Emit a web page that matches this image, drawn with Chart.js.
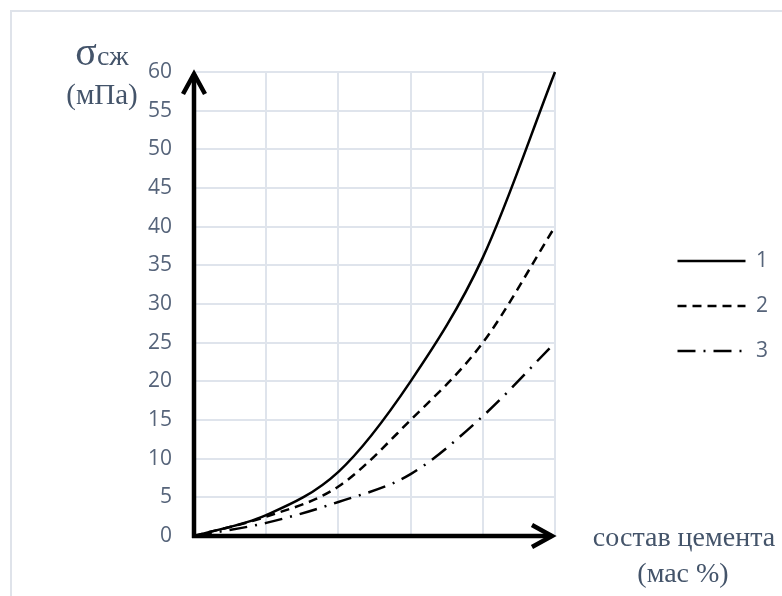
<!DOCTYPE html>
<html><head><meta charset="utf-8">
<script src="https://cdn.jsdelivr.net/npm/chart.js@4.4.1/dist/chart.umd.min.js"></script>
<style>html,body{margin:0;padding:0;background:#fff;overflow:hidden}canvas{display:block}</style>
</head><body>
<canvas id="c" width="782" height="596"></canvas>
<script>
const xValues = [0, 10, 20, 30, 40, 50];
const series1 = [0, 2.7, 8.3, 20, 36, 60];
const series2 = [0, 2.5, 6.4, 15, 25, 40];
const series3 = [0, 1.7, 4.4, 8, 15.5, 25];
const seriesNames = ['1', '2', '3'];
const yTitleSymbol = 'σ';
const yTitleSub = 'сж';
const yTitleUnit = '(мПа)';
const xTitleLine1 = 'состав цемента';
const xTitleLine2 = '(мас %)';

const tickColor = '#56647a';
const titleColor = '#44546A';
const tickFont = {family: 'Open Sans', size: 21};
const gridColor = '#dfe4ec';

const toPoints = arr => xValues.map((x, i) => ({x: x, y: arr[i]}));

const decor = {
  id: 'decor',
  beforeDraw(chart) {
    const ctx = chart.ctx;
    ctx.save();
    ctx.strokeStyle = '#dfe3ea';
    ctx.lineWidth = 2;
    ctx.strokeRect(11, 11, 1000, 1000);
    ctx.restore();
  },
  afterDatasetsDraw(chart) {
    const {ctx, scales: {x, y}} = chart;
    const x0 = x.getPixelForValue(0), xr = x.getPixelForValue(50);
    const y0 = y.getPixelForValue(0), yt = y.getPixelForValue(60);
    ctx.save();
    ctx.strokeStyle = '#000';
    ctx.lineWidth = 4.5;
    ctx.lineCap = 'butt';
    ctx.lineJoin = 'miter';
    ctx.beginPath(); ctx.moveTo(x0, y0 + 2); ctx.lineTo(x0, yt + 2); ctx.stroke();
    ctx.beginPath(); ctx.moveTo(x0 - 11, yt + 22); ctx.lineTo(x0, yt + 2); ctx.lineTo(x0 + 11, yt + 22); ctx.stroke();
    ctx.beginPath(); ctx.moveTo(x0 - 2, y0); ctx.lineTo(xr - 3, y0); ctx.stroke();
    ctx.beginPath(); ctx.moveTo(xr - 23, y0 - 11); ctx.lineTo(xr - 3, y0); ctx.lineTo(xr - 23, y0 + 11); ctx.stroke();
    ctx.restore();
  },
  afterDraw(chart) {
    const ctx = chart.ctx;
    ctx.save();
    ctx.fillStyle = titleColor;
    ctx.textBaseline = 'alphabetic';
    ctx.font = '40px "Liberation Serif"';
    const wS = ctx.measureText(yTitleSymbol).width;
    ctx.font = '28px "Liberation Serif"';
    const wSub = ctx.measureText(yTitleSub).width;
    const cx = 102;
    let sx = cx - (wS + wSub) / 2;
    ctx.font = '40px "Liberation Serif"';
    ctx.textAlign = 'left';
    ctx.fillText(yTitleSymbol, sx, 65);
    ctx.font = '28px "Liberation Serif"';
    ctx.fillText(yTitleSub, sx + wS, 65);
    ctx.textAlign = 'center';
    ctx.font = '29px "Liberation Serif"';
    ctx.fillText(yTitleUnit, cx, 104);
    ctx.font = '28px "Liberation Serif"';
    ctx.fillText(xTitleLine1, 684, 546);
    ctx.fillText(xTitleLine2, 683, 582);
    ctx.restore();
  }
};

const common = {borderColor: '#000', borderWidth: 2.5, pointRadius: 0, pointHoverRadius: 0, cubicInterpolationMode: 'monotone', fill: false, clip: false};

new Chart(document.getElementById('c'), {
  type: 'line',
  data: {
    datasets: [
      Object.assign({label: seriesNames[0], data: toPoints(series1), borderDash: []}, common),
      Object.assign({label: seriesNames[1], data: toPoints(series2), borderDash: [9, 6]}, common),
      Object.assign({label: seriesNames[2], data: toPoints(series3), borderDash: [18, 8, 2, 8]}, common)
    ]
  },
  options: {
    responsive: false,
    devicePixelRatio: 1,
    animation: false,
    layout: {padding: {left: 10, right: 4, top: 72, bottom: 56}},
    plugins: {
      legend: {
        position: 'right',
        align: 'center',
        labels: {
          usePointStyle: true,
          pointStyle: 'line',
          pointStyleWidth: 68,
          boxWidth: 68,
          padding: 24,
          color: tickColor,
          font: tickFont,
          generateLabels(chart) {
            const items = Chart.defaults.plugins.legend.labels.generateLabels(chart);
            items.forEach(it => {
              const ds = chart.data.datasets[it.datasetIndex];
              it.lineDash = ds.borderDash;
              it.lineWidth = 2.5;
              it.strokeStyle = '#000';
              it.pointStyle = 'line';
            });
            return items;
          }
        }
      },
      tooltip: {enabled: false}
    },
    scales: {
      x: {
        type: 'linear', min: 0, max: 50,
        ticks: {stepSize: 10, padding: 19, color: tickColor, font: tickFont, maxRotation: 0},
        grid: {color: gridColor, lineWidth: 2, drawTicks: false},
        border: {display: false},
        afterFit(s) { s.height = 4; }
      },
      y: {
        type: 'linear', min: 0, max: 60,
        ticks: {stepSize: 5, padding: 22, color: tickColor, font: tickFont},
        grid: {color: gridColor, lineWidth: 2, drawTicks: false},
        border: {display: false},
        afterFit(s) { s.width = 184; }
      },
      y2: {
        type: 'linear', position: 'right', display: true,
        ticks: {display: false},
        grid: {display: false, drawTicks: false},
        border: {display: false},
        afterFit(s) { s.width = 98.5; }
      }
    }
  },
  plugins: [decor]
});
</script>
</body></html>
